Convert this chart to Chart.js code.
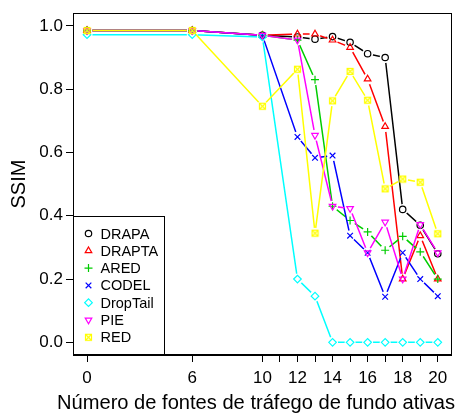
<!DOCTYPE html>
<html>
<head>
<meta charset="utf-8">
<script src="https://cdn.jsdelivr.net/npm/chart.js@4.4.1/dist/chart.umd.min.js"></script>
<style>
  html, body { margin: 0; padding: 0; background: #ffffff; }
  #wrap { width: 457px; height: 416px; }
</style>
</head>
<body>
<div id="wrap"><canvas id="c" width="457" height="416"></canvas></div>
<script>
// Number of active background traffic sources
const fontes = [0, 6, 10, 12, 13, 14, 15, 16, 17, 18, 19, 20];

// SSIM per queue discipline
const drapa    = [0.985, 0.985, 0.970, 0.965, 0.958, 0.966, 0.948, 0.912, 0.900, 0.420, 0.370, 0.280];
const drapta   = [0.985, 0.985, 0.970, 0.974, 0.974, 0.955, 0.932, 0.832, 0.682, 0.200, 0.337, 0.200];
const ared     = [0.985, 0.985, 0.970, 0.955, 0.830, 0.430, 0.385, 0.349, 0.291, 0.335, 0.286, 0.200];
const codel    = [0.985, 0.985, 0.970, 0.649, 0.583, 0.590, 0.337, 0.283, 0.144, 0.283, 0.200, 0.146];
const droptail = [0.972, 0.972, 0.965, 0.200, 0.146, 0.000, 0.000, 0.000, 0.000, 0.000, 0.000, 0.000];
const pie      = [0.985, 0.985, 0.970, 0.955, 0.654, 0.430, 0.423, 0.283, 0.380, 0.200, 0.372, 0.283];
const red      = [0.985, 0.985, 0.746, 0.863, 0.345, 0.763, 0.856, 0.765, 0.485, 0.516, 0.506, 0.343];

const seriesNames = ['DRAPA', 'DRAPTA', 'ARED', 'CODEL', 'DropTail', 'PIE', 'RED'];
const seriesValues = [drapa, drapta, ared, codel, droptail, pie, red];

// Axis ticks
const xTickValues = [0, 6, 10, 11, 12, 13, 14, 15, 16, 17, 18, 19, 20];
const xTickLabels = [0, 6, 10, 12, 14, 16, 18, 20];
const yTickValues = [0, 0.2, 0.4, 0.6, 0.8, 1.0];

const xTitle = 'Número de fontes de tráfego de fundo ativas';
const yTitle = 'SSIM';

const FONT = '"Liberation Sans", Arial, Helvetica, sans-serif';
const colors = ['#000000', '#FF0000', '#00CD00', '#0000FF', '#00FFFF', '#FF00FF', '#FFFF00'];

// Square with a cross inside (used for RED)
function boxCross(color) {
  const s = 9;
  const cv = document.createElement('canvas');
  cv.width = s; cv.height = s;
  const g = cv.getContext('2d');
  g.strokeStyle = color;
  g.lineWidth = 1.2;
  g.strokeRect(1.5, 1.5, s - 3, s - 3);
  g.beginPath();
  g.moveTo(1.5, 1.5); g.lineTo(s - 1.5, s - 1.5);
  g.moveTo(s - 1.5, 1.5); g.lineTo(1.5, s - 1.5);
  g.stroke();
  return cv;
}

const markers = [
  { pointStyle: 'circle',   radius: 3.2, rotation: 0 },
  { pointStyle: 'triangle', radius: 3.8, rotation: 0 },
  { pointStyle: 'cross',    radius: 4.0, rotation: 0 },
  { pointStyle: 'crossRot', radius: 4.0, rotation: 0 },
  { pointStyle: 'rectRot',  radius: 3.8, rotation: 0 },
  { pointStyle: 'triangle', radius: 3.8, rotation: 180 },
  { pointStyle: boxCross('#FFFF00'), radius: 4, rotation: 0 }
];

const datasets = [];
seriesValues.forEach((vals, i) => {
  const pts = vals.map((v, k) => ({ x: fontes[k], y: v }));
  const layer = (seriesValues.length - 1 - i) * 2;
  // connecting line, broken around each marker
  datasets.push({
    label: seriesNames[i] + ' line',
    data: pts,
    showLine: true,
    borderColor: colors[i],
    borderWidth: 1.5,
    pointRadius: 0,
    pointHoverRadius: 0,
    fill: false,
    tension: 0,
    gap: 5.5,
    order: layer + 1
  });
  // markers
  datasets.push({
    label: seriesNames[i],
    data: pts,
    showLine: false,
    borderColor: colors[i],
    backgroundColor: 'rgba(0,0,0,0)',
    pointBackgroundColor: 'rgba(0,0,0,0)',
    pointBorderColor: colors[i],
    pointBorderWidth: 1.2,
    pointStyle: markers[i].pointStyle,
    pointRadius: markers[i].radius,
    pointRotation: markers[i].rotation,
    order: layer
  });
});

// Clip each line dataset so it stops short of its own markers
const gapClip = {
  id: 'gapClip',
  beforeDatasetDraw(chart, args) {
    const ds = chart.data.datasets[args.index];
    if (!ds.gap) return;
    const ctx = chart.ctx;
    const a = chart.chartArea;
    ctx.save();
    ctx.beginPath();
    ctx.rect(a.left - 2, a.top - 2, a.right - a.left + 4, a.bottom - a.top + 4);
    args.meta.data.forEach(p => {
      ctx.moveTo(p.x + ds.gap, p.y);
      ctx.arc(p.x, p.y, ds.gap, 0, Math.PI * 2);
    });
    ctx.clip('evenodd');
  },
  afterDatasetDraw(chart, args) {
    const ds = chart.data.datasets[args.index];
    if (!ds.gap) return;
    chart.ctx.restore();
  }
};

// Frame around the plotting region and the two axis titles
const frame = {
  id: 'frame',
  afterDatasetsDraw(chart) {
    const a = chart.chartArea;
    const ctx = chart.ctx;
    ctx.save();
    ctx.strokeStyle = '#000';
    ctx.lineWidth = 1;
    ctx.strokeRect(Math.round(a.left) + 0.5, Math.round(a.top) + 0.5,
                   Math.round(a.right - a.left) - 1, Math.round(a.bottom - a.top) - 1);

    ctx.fillStyle = '#000';
    ctx.textBaseline = 'middle';
    // x title spans from x=57 to x=455
    ctx.font = '20px ' + FONT;
    const size = 20 * 398 / ctx.measureText(xTitle).width;
    ctx.font = size.toFixed(2) + 'px ' + FONT;
    ctx.textAlign = 'left';
    ctx.fillText(xTitle, 57, 403);

    ctx.textAlign = 'center';
    ctx.translate(19, (a.top + a.bottom) / 2);
    ctx.rotate(-Math.PI / 2);
    ctx.font = '20px ' + FONT;
    ctx.fillText(yTitle, 0, 0);
    ctx.restore();
  }
};

// Boxed legend in the lower-left corner of the plot
const boxLegend = {
  id: 'boxLegend',
  afterDraw(chart) {
    const a = chart.chartArea;
    const ctx = chart.ctx;
    const w = 91, rowH = 17.3, h = 138;
    const x0 = Math.round(a.left) + 0.5, y1 = Math.round(a.bottom) - 0.5, y0 = y1 - h;
    ctx.save();
    ctx.fillStyle = '#fff';
    ctx.fillRect(x0, y0, w, h);
    ctx.strokeStyle = '#000';
    ctx.lineWidth = 1;
    ctx.strokeRect(x0, y0, w, h);
    ctx.font = '14.5px ' + FONT;
    ctx.textBaseline = 'middle';
    ctx.textAlign = 'left';
    seriesNames.forEach((name, i) => {
      const cy = y0 + 17 + i * rowH;
      const cx = x0 + 15;
      ctx.strokeStyle = colors[i];
      ctx.fillStyle = 'rgba(0,0,0,0)';
      ctx.lineWidth = 1.2;
      Chart.helpers.drawPoint(ctx, {
        pointStyle: markers[i].pointStyle,
        radius: markers[i].radius,
        rotation: markers[i].rotation,
        borderWidth: 1.2
      }, cx, cy);
      ctx.fillStyle = '#000';
      ctx.fillText(name, x0 + 27, cy + 1);
    });
    ctx.restore();
  }
};

new Chart(document.getElementById('c'), {
  type: 'scatter',
  data: { datasets },
  plugins: [gapClip, frame, boxLegend],
  options: {
    responsive: false,
    animation: false,
    devicePixelRatio: 1,
    layout: { padding: { top: 13, right: 1, left: 0, bottom: 0 } },
    plugins: { legend: { display: false }, tooltip: { enabled: false } },
    elements: { line: { tension: 0 } },
    scales: {
      x: {
        type: 'linear',
        min: -0.8,
        max: 20.8,
        afterBuildTicks: s => { s.ticks = xTickValues.map(v => ({ value: v })); },
        afterFit: s => { s.height = 61; },
        ticks: {
          autoSkip: false,
          maxRotation: 0,
          padding: 6,
          color: '#000',
          font: { family: FONT, size: 17 },
          callback: v => (xTickLabels.includes(v) ? String(v) : '')
        },
        grid: { drawOnChartArea: false, drawTicks: true, tickLength: 7, color: '#000', tickColor: '#000' },
        border: { display: true, color: '#000' }
      },
      y: {
        type: 'linear',
        min: -0.04,
        max: 1.04,
        afterBuildTicks: s => { s.ticks = yTickValues.map(v => ({ value: v })); },
        afterFit: s => { s.width = 73; },
        ticks: {
          padding: 3,
          color: '#000',
          font: { family: FONT, size: 17 },
          callback: v => v.toFixed(1)
        },
        grid: { drawOnChartArea: false, drawTicks: true, tickLength: 7, color: '#000', tickColor: '#000' },
        border: { display: true, color: '#000' }
      }
    }
  }
});
</script>
</body>
</html>
